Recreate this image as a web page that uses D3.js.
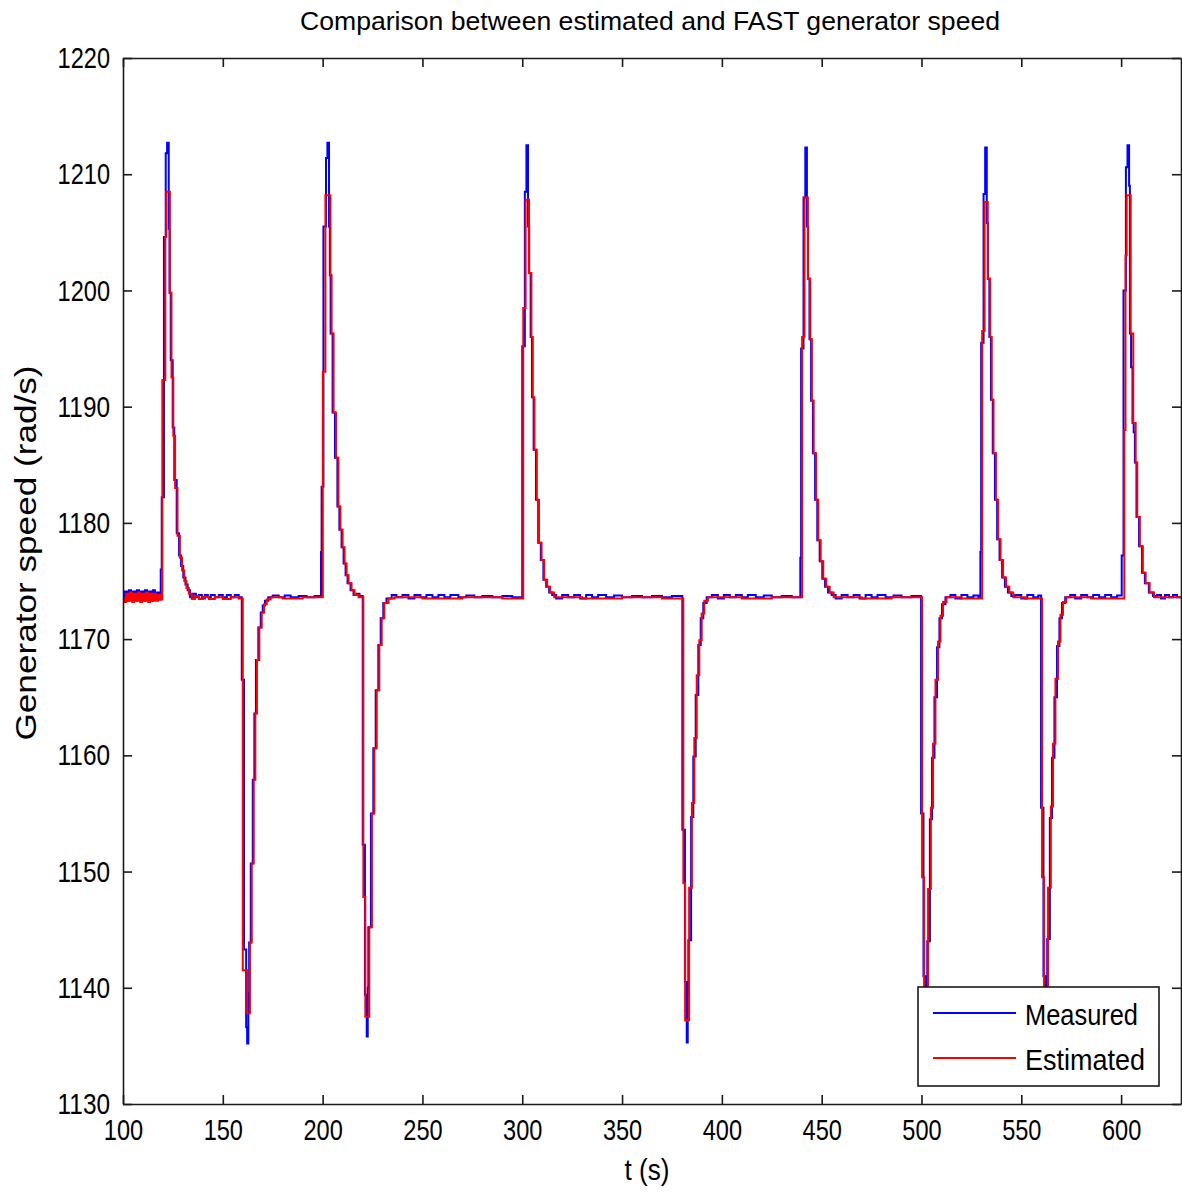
<!DOCTYPE html>
<html>
<head>
<meta charset="UTF-8">
<style>
    body { margin: 0; background: #fff; }
    svg text { font-family: "Liberation Sans", Arial, sans-serif; fill: #000; }
</style>
</head>
<body>
<svg></svg>
<script src="https://d3js.org/d3.v7.min.js"></script>
<script>

let width = 1182, height = 1192;

// tick labels
const xTicks = [100, 150, 200, 250, 300, 350, 400, 450, 500, 550, 600];
const yTicks = [1130, 1140, 1150, 1160, 1170, 1180, 1190, 1200, 1210, 1220];

// measured (FAST) generator speed, [t, rad/s], held until next sample
const measured = [
    [100,1173.3],[101,1174.1],[102,1173.3],[103,1174.2],[104,1173.4],[105,1174.1],[106,1173.3],[107,1174.2],
    [108,1173.4],[109,1174.1],[110,1173.3],[111,1174.2],[112,1173.4],[113,1174.1],[114,1173.3],[115,1174.2],
    [116,1173.4],[117,1174.0],[118,1173.4],
    [118.9,1176.0],[119.4,1182.2],[120.5,1204.6],[121.4,1211.8],[122.1,1212.7],[122.9,1205.3],[123.3,1199.8],
    [123.9,1194.0],[124.9,1188.2],[125.7,1183.7],[126.9,1179.1],[128.1,1177.2],[129.1,1176.3],[130.2,1175.3],
    [131.3,1174.7],[132.4,1174.2],[133.6,1173.6],[135,1173.9],[136.5,1173.6],[138,1173.8],[139.5,1173.5],
    [141,1173.8],[142.5,1173.6],[144,1173.8],[146,1173.6],[148,1173.8],[150,1173.6],[152,1173.8],[154,1173.6],
    [156,1173.8],[158,1173.6],
    [159.5,1166.5],[160.6,1143.3],[161.7,1136.6],[162.2,1135.2],[162.8,1139.5],[163.2,1143.9],[164.0,1150.7],
    [165.0,1157.9],[165.8,1163.6],[166.6,1168.2],[167.8,1171.0],[169.0,1172.3],[170.0,1172.9],[171.1,1173.3],
    [172.8,1173.6],[175,1173.75],[178,1173.6],[181,1173.75],[184,1173.6],[188,1173.7],[192,1173.6],[196,1173.7],
    [199.2,1177.5],[199.5,1183.1],[200.4,1205.5],[201.7,1211.4],[202.4,1212.7],[203.2,1205.5],[203.6,1201.3],
    [204.0,1196.3],[205.0,1189.5],[206.2,1185.6],[207.4,1181.4],[208.4,1179.4],[209.5,1177.9],[210.5,1176.5],
    [211.5,1175.5],[212.5,1174.8],[214,1174.2],[215.5,1173.8],[217,1173.9],[218.5,1173.7],
    [220.1,1152.3],[221.2,1139.4],[222.1,1135.8],[222.6,1140.0],[222.9,1145.2],[224.2,1155.0],[225.4,1160.6],
    [226.6,1165.6],[227.9,1169.5],[229.1,1171.8],[230.4,1173.1],[232,1173.5],[234.6,1173.8],[237,1173.6],
    [240,1173.8],[243,1173.5],[246,1173.8],[249,1173.6],[252,1173.8],[255,1173.6],[258,1173.8],[261,1173.6],
    [264,1173.8],[268,1173.6],[272,1173.75],[276,1173.6],[280,1173.7],[285,1173.6],[290,1173.7],[295,1173.6],
    [300.0,1195.2],[301.3,1208.5],[302.1,1212.5],[302.9,1205.5],[303.5,1201.5],[304.2,1196.0],[304.9,1190.8],
    [305.7,1186.3],[306.9,1182.0],[308.0,1178.3],[309.3,1176.8],[310.6,1175.1],[312.0,1174.5],[313.5,1174.0],
    [315,1173.8],[317,1173.5],[320,1173.8],[323,1173.6],[326,1173.8],[329,1173.5],[332,1173.8],[335,1173.6],
    [338,1173.8],[342,1173.6],[346,1173.75],[350,1173.6],[355,1173.7],[360,1173.6],[365,1173.7],[370,1173.6],
    [375,1173.7],
    [380.2,1153.6],[381.5,1140.5],[382.4,1135.3],[382.9,1139.5],[383.2,1144.1],[384.6,1154.7],[385.7,1159.9],
    [386.9,1165.2],[388.2,1169.5],[389.4,1171.8],[390.7,1173.1],[392.4,1173.6],[395,1173.8],[398,1173.5],
    [401,1173.8],[404,1173.6],[407,1173.8],[410,1173.6],[413,1173.8],[417,1173.6],[421,1173.75],[425,1173.6],
    [430,1173.7],[435,1173.6],
    [439.3,1177.0],[439.7,1195.0],[440.9,1208.0],[441.8,1212.3],[442.6,1205.5],[443.2,1201.0],[443.9,1195.8],
    [444.7,1190.5],[445.6,1186.0],[446.7,1182.0],[447.8,1178.5],[449.0,1176.7],[450.3,1175.2],[451.7,1174.5],
    [453.2,1174.0],[455,1173.8],[457,1173.5],[460,1173.8],[463,1173.6],[466,1173.8],[469,1173.5],[472,1173.8],
    [475,1173.6],[478,1173.8],[482,1173.6],[486,1173.75],[490,1173.6],[495,1173.7],
    [499.8,1155.0],[501.0,1141.0],[502.0,1135.5],[502.5,1139.5],[502.9,1144.0],[504.2,1154.5],[505.3,1159.8],
    [506.5,1165.0],[507.8,1169.3],[509.0,1171.8],[510.3,1173.0],[512,1173.6],[514.5,1173.8],[517,1173.5],
    [520,1173.8],[523,1173.6],[526,1173.75],[528.5,1173.6],
    [529.5,1177.5],[529.9,1195.5],[531.1,1208.3],[531.9,1212.3],[532.7,1205.8],[533.3,1201.0],[534.0,1196.0],
    [534.8,1190.6],[535.7,1186.0],[536.8,1182.0],[537.9,1178.6],[539.1,1176.8],[540.4,1175.3],[541.8,1174.5],
    [543.3,1174.0],[545,1173.7],[547,1173.8],[550,1173.5],[553,1173.8],[556,1173.6],[558.5,1173.75],
    [559.9,1155.5],[561.1,1141.0],[562.1,1135.6],[562.6,1139.5],[563.0,1144.2],[564.3,1154.6],[565.4,1159.8],
    [566.6,1165.0],[567.9,1169.4],[569.1,1171.8],[570.4,1173.1],[572,1173.6],[574.5,1173.8],[577,1173.5],
    [580,1173.8],[583,1173.6],[586,1173.8],[589,1173.6],[592,1173.8],[595,1173.6],[598,1173.75],
    [600.3,1177.2],[601.2,1200.0],[602.4,1210.6],[603.2,1212.5],[604.0,1209.0],[604.4,1196.3],[605.0,1193.4],
    [605.7,1188.6],[606.3,1187.8],[606.9,1185.2],[607.7,1180.5],[609.0,1178.0],[610.5,1175.7],[611.9,1174.8],
    [613.9,1174.0],[616,1173.7],[618,1173.8],[620,1173.5],[622,1173.8],[624,1173.6],[626,1173.8],[628,1173.6],
    [630,1173.7]
];

// estimated generator speed, [t, rad/s]
const estimated = [
    [100,1173.5],[100.6,1173.2],[101.6,1173.9],[102.6,1173.3],[103.6,1174.0],[104.6,1173.2],[105.6,1173.9],
    [106.6,1173.3],[107.6,1174.0],[108.6,1173.2],[109.6,1173.9],[110.6,1173.3],[111.6,1174.0],[112.6,1173.2],
    [113.6,1173.9],[114.6,1173.3],[115.6,1173.9],[116.6,1173.3],[117.6,1173.8],[118.6,1173.4],
    [119.7,1192.3],[121.2,1204.6],[121.7,1208.5],[123.5,1199.8],[124.3,1192.5],[125.2,1187.5],[126.1,1183.0],
    [127.3,1178.9],[128.5,1177.0],[129.6,1175.9],[130.7,1175.0],[131.8,1174.4],[133,1173.9],[134.5,1173.45],
    [136,1173.7],[138,1173.45],[140,1173.65],[143,1173.45],[146,1173.6],[150,1173.45],[154,1173.6],[158,1173.5],
    [160.0,1141.5],[162.2,1137.8],[163.6,1143.9],[164.5,1150.7],[165.5,1157.9],[166.3,1163.6],[167.1,1168.2],
    [168.3,1171.0],[169.5,1172.3],[170.7,1173.0],[172,1173.4],[174,1173.6],[180,1173.5],[190,1173.6],
    [200.1,1193.0],[201.4,1208.2],[203.9,1201.3],[204.5,1196.3],[205.5,1189.5],[206.7,1185.6],[207.9,1181.4],
    [208.9,1179.4],[210.0,1177.9],[211,1176.5],[212,1175.5],[213,1174.8],[214.5,1174.2],[216,1173.8],[218,1173.6],
    [220.4,1147.8],[221.4,1137.5],[223.4,1145.2],[224.7,1155.0],[225.9,1160.6],[227.1,1165.6],[228.4,1169.5],
    [229.6,1171.8],[230.9,1173.1],[233,1173.5],[236,1173.6],[250,1173.5],[270,1173.6],[290,1173.5],
    [300.5,1198.5],[301.7,1207.8],[303.4,1201.5],[304.6,1196.0],[305.3,1190.8],[306.1,1186.3],[307.3,1182.0],
    [308.4,1178.3],[309.7,1176.8],[311.0,1175.1],[312.5,1174.5],[314,1174.0],[316,1173.6],[330,1173.5],
    [350,1173.6],[370,1173.5],
    [380.7,1149.0],[381.6,1137.2],[383.6,1148.6],[385.0,1155.9],[386.2,1161.5],[387.4,1166.9],[388.7,1169.9],
    [389.9,1172.2],[391.2,1173.3],[393,1173.6],[410,1173.5],[425,1173.6],
    [440.2,1196.0],[441.4,1208.0],[443.1,1201.0],[444.3,1195.8],[445.1,1190.5],[446.0,1186.0],[447.2,1182.0],
    [448.3,1178.5],[449.5,1176.7],[450.8,1175.2],[452.3,1174.5],[454,1174.0],[456,1173.6],[470,1173.5],[485,1173.6],
    [500.3,1149.5],[501.3,1137.5],[503.3,1148.5],[504.7,1155.5],[505.8,1161.0],[507.0,1166.5],[508.3,1169.8],
    [509.5,1172.0],[510.8,1173.2],[512.5,1173.6],[520,1173.5],
    [530.4,1196.5],[531.6,1207.6],[533.2,1201.0],[534.4,1196.0],[535.2,1190.6],[536.1,1186.0],[537.3,1182.0],
    [538.4,1178.6],[539.6,1176.8],[540.9,1175.3],[542.4,1174.5],[544,1174.0],[546,1173.6],[552,1173.5],
    [560.4,1149.5],[561.4,1137.6],[563.4,1148.6],[564.8,1155.6],[565.9,1161.0],[567.1,1166.6],[568.4,1169.8],
    [569.6,1172.1],[570.9,1173.2],[572.5,1173.6],[585,1173.5],
    [601.6,1188.0],[602.2,1203.0],[602.8,1208.2],[604.8,1196.3],[606.1,1188.6],[607.3,1185.2],[608.1,1180.5],
    [609.4,1178.0],[610.9,1175.7],[612.3,1174.8],[614.3,1174.0],[616.5,1173.6],[630,1173.6]
];

const seriesNames = ["Measured", "Estimated"];
const seriesColors = ["#0000ff", "#ff0000"];

let svg = d3.select("svg")
    .attr("width", width)
    .attr("height", height);

let plot = {left: 123, right: 1181, top: 58, bottom: 1104};

let x = d3.scaleLinear().domain([100, 630]).range([plot.left, plot.right]);
let y = d3.scaleLinear().domain([1130, 1220]).range([plot.bottom, plot.top]);

svg.append("rect")
    .attr("width", width).attr("height", height)
    .attr("fill", "#fff");

svg.append("defs").append("clipPath").attr("id", "plotClip")
    .append("rect")
    .attr("x", plot.left).attr("y", plot.top)
    .attr("width", plot.right - plot.left).attr("height", plot.bottom - plot.top);

//lines
let line = d3.line()
    .x(d => x(d[0]))
    .y(d => y(d[1]))
    .curve(d3.curveStepAfter);

let lines = svg.append("g").attr("clip-path", "url(#plotClip)");
[measured, estimated].forEach((s, i) => {
    lines.append("path")
        .datum(s)
        .attr("fill", "none")
        .attr("stroke", seriesColors[i])
        .attr("stroke-width", 2)
        .attr("d", line);
});

//axes
let styleAxis = g => {
    g.select(".domain").attr("stroke", "#1a1a1a").attr("stroke-width", 1.6);
    g.selectAll(".tick line").attr("stroke", "#1a1a1a").attr("stroke-width", 1.6);
    g.selectAll(".tick text")
        .attr("fill", "#000")
        .style("font-size", "30px")
        .attr("textLength", d => String(d).length * 13.1)
        .attr("lengthAdjust", "spacingAndGlyphs");
};

svg.append("g")
    .attr("transform", `translate(0,${plot.bottom})`)
    .call(d3.axisBottom(x).tickValues(xTicks).tickFormat(d3.format("d"))
        .tickSizeInner(-9).tickSizeOuter(0).tickPadding(15))
    .call(styleAxis);

svg.append("g")
    .attr("transform", `translate(0,${plot.top})`)
    .call(d3.axisTop(x).tickValues(xTicks).tickSizeInner(-9).tickSizeOuter(0).tickFormat(""))
    .call(styleAxis);

svg.append("g")
    .attr("transform", `translate(${plot.left},0)`)
    .call(d3.axisLeft(y).tickValues(yTicks).tickFormat(d3.format("d"))
        .tickSizeInner(-9).tickSizeOuter(0).tickPadding(13))
    .call(styleAxis);

svg.append("g")
    .attr("transform", `translate(${plot.right},0)`)
    .call(d3.axisRight(y).tickValues(yTicks).tickSizeInner(-9).tickSizeOuter(0).tickFormat(""))
    .call(styleAxis);

//title and labels
svg.append("text")
    .attr("x", 650).attr("y", 30)
    .attr("text-anchor", "middle")
    .style("font-size", "25px")
    .attr("textLength", 700).attr("lengthAdjust", "spacingAndGlyphs")
    .text("Comparison between estimated and FAST generator speed");

svg.append("text")
    .attr("x", 647).attr("y", 1180)
    .attr("text-anchor", "middle")
    .style("font-size", "30px")
    .attr("textLength", 45).attr("lengthAdjust", "spacingAndGlyphs")
    .text("t (s)");

svg.append("text")
    .attr("transform", "translate(36,553) rotate(-90)")
    .attr("text-anchor", "middle")
    .style("font-size", "30px")
    .attr("textLength", 375).attr("lengthAdjust", "spacingAndGlyphs")
    .text("Generator speed (rad/s)");

//legend
let legend = svg.append("g").attr("transform", "translate(918,987)");
legend.append("rect")
    .attr("width", 241).attr("height", 99)
    .attr("fill", "#fff")
    .attr("stroke", "#1a1a1a").attr("stroke-width", 1.6);

let legendWidths = [113, 120];
seriesNames.forEach((name, i) => {
    let ly = 26 + i * 45;
    legend.append("line")
        .attr("x1", 15).attr("x2", 98)
        .attr("y1", ly).attr("y2", ly)
        .attr("stroke", seriesColors[i]).attr("stroke-width", 2);
    legend.append("text")
        .attr("x", 107).attr("y", ly + 12)
        .style("font-size", "30px")
        .attr("textLength", legendWidths[i]).attr("lengthAdjust", "spacingAndGlyphs")
        .text(name);
});

</script>
</body>
</html>
